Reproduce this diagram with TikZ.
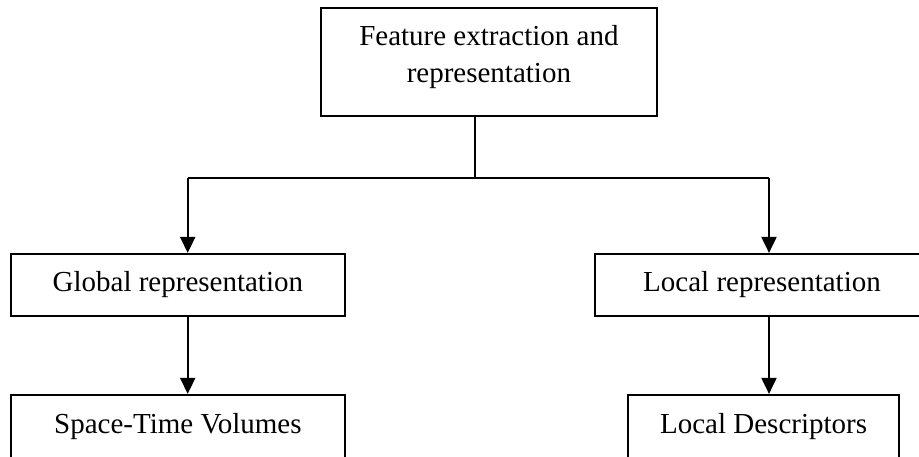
\documentclass[tikz,border=0pt]{standalone}
\usepackage{fontspec}
\setmainfont{Liberation Serif}
\usetikzlibrary{arrows.meta}

\tikzset{
  box/.style={draw=black, line width=2.2pt, rectangle, inner sep=0pt,
    align=center, font=\fontsize{29pt}{37.7pt}\selectfont},
  link/.style={draw=black, line width=2pt},
  arr/.style={link, -{Triangle[length=16pt,width=15pt]}}
}

\begin{document}
\begin{tikzpicture}[x=1pt, y=-1pt]
  \useasboundingbox (0,0) rectangle (919,456);

  % boxes
  \node[box, minimum width=336.3pt, minimum height=107.7pt, text depth=16.3pt]
    (top) at (488.9,62.2) {Feature extraction and\\representation};
  \node[box, minimum width=334.3pt, minimum height=62pt] (glob) at (177.85,285)
    {Global representation};
  \node[box, minimum width=334.3pt, minimum height=62pt] (loc) at (762,285)
    {Local representation};
  \node[box, minimum width=334.3pt, minimum height=66pt, text depth=9.7pt]
    (stv) at (177.85,428) {Space-Time Volumes};
  \node[box, minimum width=271.3pt, minimum height=66pt, text depth=9.7pt]
    (ldesc) at (763.6,428) {Local Descriptors};

  % branching points
  \coordinate (split) at (475,178);
  \coordinate (jl) at (187.7,178);
  \coordinate (jr) at (769,178);

  % connectors
  \draw[link] (top.south -| split) -- (split);
  \draw[link] (jl) -- (jr);
  \draw[arr] (jl) -- (jl |- glob.north);
  \draw[arr] (jr) -- (jr |- loc.north);
  \draw[arr] (jl |- glob.south) -- (jl |- stv.north);
  \draw[arr] (jr |- loc.south) -- (jr |- ldesc.north);
\end{tikzpicture}
\end{document}
